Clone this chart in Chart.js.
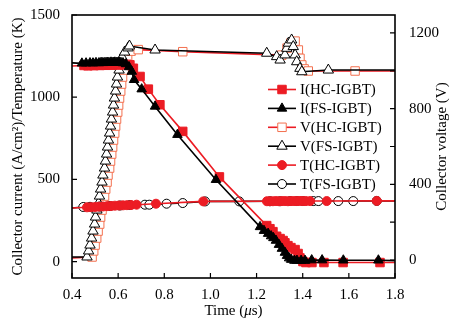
<!DOCTYPE html>
<html>
<head>
<meta charset="utf-8">
<script src="https://cdn.jsdelivr.net/npm/chart.js@4/dist/chart.umd.min.js"></script>
<style>
  html, body { margin: 0; padding: 0; background: #fff; }
  #wrap { width: 462px; height: 325px; }
</style>
</head>
<body>
<div id="wrap"><canvas id="c" width="462" height="325"></canvas></div>
<script>
/* turn-off transient: current, voltage and temperature of HC-IGBT vs FS-IGBT */

// tick labels
const timeTicks  = [0.4, 0.6, 0.8, 1.0, 1.2, 1.4, 1.6, 1.8];
const leftTicks  = [0, 500, 1000, 1500];
const rightTicks = [0, 200, 400, 600, 800, 1000, 1200];
const rightLabels = [0, 400, 800, 1200];

// I(HC-IGBT), A/cm2, left axis
const tIhc = [0.40, 0.452, 0.469, 0.482, 0.495, 0.508, 0.521, 0.534, 0.547, 0.560, 0.573, 0.586, 0.599, 0.612,
  0.625, 0.638, 0.651, 0.666, 0.695, 0.731, 0.781, 0.880, 1.039, 1.244, 1.258, 1.271, 1.287, 1.302, 1.315,
  1.323, 1.336, 1.349, 1.367, 1.380, 1.388, 1.401, 1.414, 1.440, 1.492, 1.575, 1.735, 1.80];
const Ihc  = [1190, 1193, 1191, 1194, 1192, 1195, 1193, 1196, 1194, 1197, 1195, 1198, 1196, 1199,
  1197, 1200, 1197, 1176, 1126, 1049, 954, 792, 515, 219, 200, 182, 154, 140, 128,
  114, 97, 85, 73, 49, 22, 0, -6, -6, -6, -6, -6, -6];

// I(FS-IGBT)
const tIfs = [0.40, 0.443, 0.461, 0.478, 0.491, 0.504, 0.517, 0.526, 0.534, 0.543, 0.552, 0.560, 0.569, 0.578,
  0.586, 0.595, 0.604, 0.612, 0.621, 0.634, 0.647, 0.659, 0.669, 0.702, 0.760, 0.857, 1.024, 1.215, 1.232,
  1.250, 1.263, 1.273, 1.284, 1.297, 1.310, 1.323, 1.332, 1.341, 1.350, 1.364, 1.375, 1.393, 1.410, 1.439,
  1.484, 1.576, 1.728, 1.80];
const Ifs  = [1209, 1206, 1207, 1208, 1207, 1209, 1208, 1210, 1209, 1210, 1211, 1210, 1212, 1211,
  1212, 1211, 1212, 1210, 1208, 1202, 1184, 1156, 1106, 1049, 944, 772, 498, 211, 188,
  170, 155, 144, 128, 103, 79, 55, 36, 21, 12, 6, 6, 6, 6, 9,
  9, 8, 8, 6];

// V(HC-IGBT), V, right axis
const tVhc = [0.40, 0.487, 0.494, 0.500, 0.507, 0.513, 0.520, 0.524, 0.530, 0.537, 0.541, 0.546, 0.552, 0.556,
  0.563, 0.567, 0.572, 0.576, 0.580, 0.585, 0.589, 0.593, 0.598, 0.602, 0.606, 0.611, 0.615, 0.619, 0.626,
  0.632, 0.641, 0.656, 0.687, 0.880, 1.309, 1.332, 1.349, 1.367, 1.381, 1.388, 1.396, 1.406, 1.424, 1.627, 1.80];
const Vhc  = [11, 16, 48, 79, 116, 153, 190, 227, 264, 301, 338, 375, 412, 449,
  486, 523, 560, 597, 634, 671, 708, 745, 782, 819, 856, 893, 930, 967, 1004,
  1041, 1073, 1104, 1112, 1101, 1083, 1120, 1147, 1157, 1110, 1066, 1031, 1010, 999, 999, 999];

// V(FS-IGBT)
const tVfs = [0.40, 0.465, 0.472, 0.478, 0.485, 0.491, 0.498, 0.502, 0.508, 0.515, 0.519, 0.524, 0.530, 0.534,
  0.541, 0.545, 0.550, 0.554, 0.558, 0.563, 0.567, 0.571, 0.576, 0.580, 0.584, 0.589, 0.593, 0.597, 0.604,
  0.610, 0.617, 0.628, 0.643, 0.649, 0.760, 1.244, 1.287, 1.302, 1.323, 1.331, 1.338, 1.352, 1.359, 1.367,
  1.374, 1.388, 1.396, 1.511, 1.80];
const Vfs  = [16, 16, 48, 79, 116, 153, 190, 227, 264, 301, 338, 375, 412, 449,
  486, 523, 560, 597, 634, 671, 708, 745, 782, 819, 856, 893, 930, 967, 1004,
  1041, 1073, 1099, 1121, 1131, 1110, 1093, 1075, 1057, 1084, 1119, 1146, 1163, 1128, 1084,
  1048, 1013, 995, 1004, 1004];

// T(HC-IGBT), K, left axis
const tThc = [0.40, 0.465, 0.482, 0.500, 0.517, 0.534, 0.552, 0.569, 0.586, 0.604, 0.621, 0.638, 0.656, 0.680,
  0.764, 0.969, 1.245, 1.258, 1.271, 1.284, 1.297, 1.310, 1.323, 1.336, 1.349, 1.362, 1.375, 1.388,
  1.401, 1.414, 1.432, 1.504, 1.721, 1.80];
const Thc  = [326, 330, 331, 332, 334, 335, 337, 338, 340, 341, 342, 343, 344, 346,
  352, 366, 367, 367, 367, 368, 367, 368, 368, 367, 368, 368, 368, 369,
  368, 368, 368, 368, 369, 369];

// T(FS-IGBT)
const tTfs = [0.40, 0.449, 0.478, 0.521, 0.565, 0.608, 0.651, 0.716, 0.735, 0.810, 0.880, 0.977, 1.125, 1.258,
  1.302, 1.345, 1.375, 1.401, 1.446, 1.468, 1.554, 1.619, 1.721, 1.80];
const Tfs  = [326, 332, 333, 335, 338, 341, 344, 346, 346, 352, 356, 366, 366, 367,
  367, 368, 368, 368, 368, 368, 368, 368, 369, 369];

const RED    = '#ec1c24';
const ORANGE = '#f3704f';
const FONT   = '"Liberation Serif", "Times New Roman", serif';

function pts(ts, vs) { return ts.map((t, i) => ({ x: t, y: vs[i] })); }

// no marker on points that sit on the frame
function markerSize(r) {
  return ctx => (ctx.raw && (ctx.raw.x <= 0.4 || ctx.raw.x >= 1.8)) ? 0 : r;
}

const series = [
  { label: 'I(HC-IGBT)', t: tIhc, v: Ihc, axis: 'y',  line: RED,    mark: RED,    fill: RED,    style: 'rect',     r: 6,   order: 2 },
  { label: 'I(FS-IGBT)', t: tIfs, v: Ifs, axis: 'y',  line: '#000', mark: '#000', fill: '#000', style: 'triangle', r: 5.5, order: 1 },
  { label: 'V(HC-IGBT)', t: tVhc, v: Vhc, axis: 'y1', line: RED,    mark: ORANGE, fill: '#fff', style: 'rect',     r: 6,   order: 6 },
  { label: 'V(FS-IGBT)', t: tVfs, v: Vfs, axis: 'y1', line: '#000', mark: '#000', fill: '#fff', style: 'triangle', r: 6,   order: 5 },
  { label: 'T(HC-IGBT)', t: tThc, v: Thc, axis: 'y',  line: RED,    mark: RED,    fill: RED,    style: 'circle',   r: 4.5, order: 3 },
  { label: 'T(FS-IGBT)', t: tTfs, v: Tfs, axis: 'y',  line: '#000', mark: '#000', fill: '#fff', style: 'circle',   r: 4.5, order: 4 },
];

function drawMarker(ctx, s, x, y) {
  ctx.beginPath();
  if (s.style === 'rect') {
    const h = s.r * Math.SQRT1_2;
    ctx.rect(x - h, y - h, 2 * h, 2 * h);
  } else if (s.style === 'triangle') {
    for (let k = 0; k < 3; k++) {
      const a = k * 2 * Math.PI / 3;
      ctx[k ? 'lineTo' : 'moveTo'](x + Math.sin(a) * s.r, y - Math.cos(a) * s.r);
    }
    ctx.closePath();
  } else {
    ctx.arc(x, y, s.r, 0, 2 * Math.PI);
  }
  ctx.fillStyle = s.fill;
  ctx.strokeStyle = s.mark;
  ctx.lineWidth = 1;
  ctx.fill();
  ctx.stroke();
}

// frame, inward ticks, legend, x title and right title
const decor = {
  id: 'decor',
  afterDatasetsDraw(chart) {
    const { ctx, chartArea: a, scales } = chart;
    ctx.save();
    ctx.strokeStyle = '#000';
    ctx.lineWidth = 1.2;
    ctx.beginPath();
    leftTicks.forEach(v => {
      const y = scales.y.getPixelForValue(v);
      ctx.moveTo(a.left, y); ctx.lineTo(a.left + 5, y);
    });
    rightTicks.forEach(v => {
      const y = scales.y1.getPixelForValue(v);
      ctx.moveTo(a.right, y); ctx.lineTo(a.right - 5, y);
    });
    timeTicks.forEach(v => {
      const x = scales.x.getPixelForValue(v);
      ctx.moveTo(x, a.bottom); ctx.lineTo(x, a.bottom - 5);
    });
    ctx.stroke();
    ctx.lineWidth = 1.6;
    ctx.strokeRect(a.left, a.top, a.right - a.left, a.bottom - a.top);

    // legend inside the plot
    ctx.font = '15px ' + FONT;
    ctx.textBaseline = 'middle';
    ctx.textAlign = 'left';
    series.forEach((s, i) => {
      const y = 89.5 + i * 18.9;
      ctx.strokeStyle = s.line;
      ctx.lineWidth = 1.6;
      ctx.beginPath(); ctx.moveTo(268, y); ctx.lineTo(296, y); ctx.stroke();
      drawMarker(ctx, s, 282, y);
      ctx.fillStyle = '#000';
      ctx.fillText(s.label, 300, y + 1);
    });

    // x title with italic mu
    const parts = [['Time (', ''], ['\u03bc', 'italic '], ['s)', '']];
    let w = 0;
    parts.forEach(p => { ctx.font = p[1] + '15px ' + FONT; w += ctx.measureText(p[0]).width; });
    let x = (a.left + a.right) / 2 - w / 2;
    ctx.fillStyle = '#000';
    parts.forEach(p => {
      ctx.font = p[1] + '15px ' + FONT;
      ctx.fillText(p[0], x, 311);
      x += ctx.measureText(p[0]).width;
    });

    // right axis title, reading bottom to top
    ctx.translate(442, (a.top + a.bottom) / 2);
    ctx.rotate(-Math.PI / 2);
    ctx.font = '15px ' + FONT;
    ctx.textAlign = 'center';
    ctx.fillText('Collector voltage (V)', 0, 0);
    ctx.restore();
  }
};

const tickFont = { family: FONT, size: 15 };

new Chart(document.getElementById('c'), {
  type: 'line',
  data: {
    datasets: series.map(s => ({
      label: s.label,
      data: pts(s.t, s.v),
      yAxisID: s.axis,
      borderColor: s.line,
      borderWidth: 1.6,
      pointStyle: s.style,
      pointRadius: markerSize(s.r),
      pointBorderColor: s.mark,
      pointBackgroundColor: s.fill,
      pointBorderWidth: 1,
      tension: 0,
      order: s.order,
    }))
  },
  options: {
    responsive: false,
    animation: false,
    events: [],
    layout: { padding: { top: 15, left: 0, right: 0, bottom: 0 } },
    plugins: { legend: { display: false }, tooltip: { enabled: false } },
    scales: {
      x: {
        type: 'linear', min: 0.4, max: 1.8,
        grid: { display: false }, border: { display: false },
        ticks: { padding: 0, color: '#000', font: tickFont, maxRotation: 0, autoSkip: false,
                 callback: v => v.toFixed(1) },
        afterBuildTicks: s => { s.ticks = timeTicks.map(v => ({ value: v })); },
        afterFit: s => { s.height = 47; }
      },
      y: {
        position: 'left', min: -100, max: 1500,
        grid: { display: false }, border: { display: false },
        ticks: { padding: 4, color: '#000', font: tickFont, autoSkip: false,
                 callback: v => String(v) },
        afterBuildTicks: s => { s.ticks = leftTicks.map(v => ({ value: v })); },
        title: { display: true, text: 'Collector current (A/cm\u00b2)/Temperature (K)',
                 color: '#000', font: tickFont, padding: { top: 9, bottom: 0 } },
        afterFit: s => { s.width = 72; }
      },
      y1: {
        position: 'right', min: -95, max: 1295,
        grid: { display: false }, border: { display: false },
        ticks: { padding: 6, color: '#000', font: tickFont, autoSkip: false,
                 callback: v => String(v) },
        afterBuildTicks: s => { s.ticks = rightLabels.map(v => ({ value: v })); },
        afterFit: s => { s.width = 67; }
      }
    }
  },
  plugins: [decor]
});
</script>
</body>
</html>
